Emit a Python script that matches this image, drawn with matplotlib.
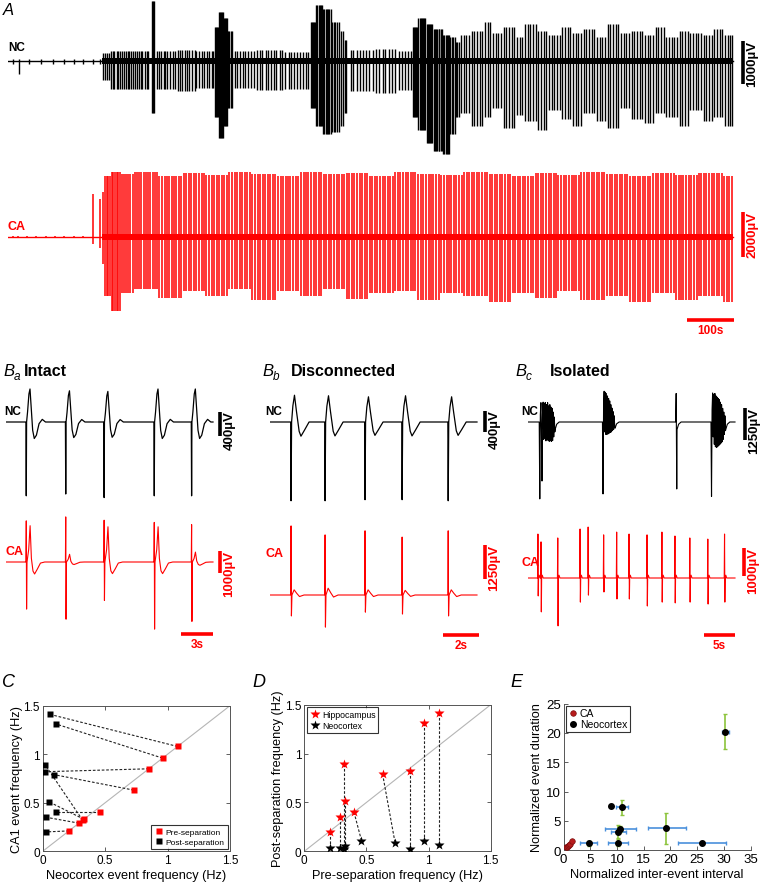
import numpy as np
import matplotlib.pyplot as plt

W, H = 760, 887
RED = '#ff0000'
plt.rcParams['font.family'] = ['Liberation Sans', 'DejaVu Sans']

# ---------------- panel A : long recordings (time s, amplitude uV) ----------------
nc_a_t = [10, 23, 45, 70, 95, 120, 140, 160, 180, 195,
          202, 207, 211, 214, 219, 223, 226, 231, 234, 238, 243, 246, 250, 255, 258, 262, 267, 270, 274, 279,
          283, 286, 291, 295, 298, 307, 309, 311,
          317, 322, 326, 331, 335, 339, 345, 350, 356, 361, 365, 371, 376, 380, 386, 392, 397, 401, 407, 412,
          418, 423, 427, 433, 437,
          441, 443, 445, 447, 449, 451, 453, 455, 457, 459, 461, 463, 465, 467, 469, 471, 474, 477,
          482, 488, 493, 500, 505, 511, 518, 523, 530, 536, 541, 548, 553, 560, 566, 571, 578, 584, 590, 597,
          602, 608, 615, 621, 627, 633, 638,
          645, 647, 649, 651, 653, 656, 658, 661, 663, 666, 668, 671, 673, 676, 678, 681, 684, 687, 690,
          693, 696, 700, 704, 708, 712, 716, 720,
          729, 735, 742, 748, 756, 762, 769, 776, 783, 789, 797, 803, 811, 818, 824, 832, 839, 845, 852, 857,
          861, 863, 866, 868, 871, 873, 876, 878, 881, 883, 886, 888, 891, 893, 896, 898, 901, 903, 906, 908,
          911, 913, 916, 918, 921, 923, 926, 928, 931, 933, 936, 938, 941, 944, 947, 950, 953, 956, 959,
          964, 970, 975, 981, 987, 992, 998, 1004, 1009, 1015, 1021, 1026, 1032, 1038, 1043, 1049, 1055, 1060,
          1066, 1072, 1077, 1083, 1089, 1094, 1100, 1106, 1111, 1117, 1123, 1128, 1134, 1140, 1145, 1151,
          1157, 1162, 1168, 1174, 1179, 1185, 1191, 1196, 1202, 1208, 1213, 1219, 1225, 1230, 1236, 1242,
          1247, 1253, 1259, 1264, 1270, 1276, 1281, 1287, 1293, 1298, 1304, 1310, 1315, 1321, 1327, 1332,
          1338, 1344, 1349, 1355, 1361, 1366, 1372, 1378, 1383, 1389, 1395, 1400, 1406, 1412, 1417, 1423,
          1429, 1434, 1440, 1446, 1451, 1457, 1463, 1468, 1474, 1480, 1485, 1491, 1497, 1502, 1508, 1514,
          1519, 1525, 1531, 1536, 1540]
nc_env_t = [0, 18, 28, 200, 215, 304, 314, 360, 400, 440, 448, 458, 466, 478, 530, 590, 645, 655, 670, 690,
            705, 715, 724, 780, 830, 860, 872, 890, 905, 925, 940, 952, 962, 985, 1010, 1030, 1055, 1080, 1100,
            1125, 1150, 1175, 1200, 1225, 1250, 1275, 1300, 1325, 1350, 1375, 1400, 1425, 1450, 1475, 1500, 1525]
nc_env_up = [40, 40, 40, 180, 240, 1400, 240, 260, 230, 800, 1150, 1000, 700, 230, 250, 220, 900, 1300, 1200,
             900, 700, 500, 250, 280, 240, 800, 1000, 850, 750, 600, 550, 450, 600, 700, 900, 650, 800, 550,
             850, 700, 600, 800, 650, 750, 550, 850, 650, 700, 600, 800, 550, 700, 650, 600, 750, 600]
nc_env_dn = [-70, -300, -70, -450, -650, -1200, -640, -700, -620, -1300, -1800, -1500, -1100, -620, -680, -640,
             -1100, -1500, -1700, -1650, -1500, -1200, -700, -750, -680, -1300, -1600, -1900, -2100, -2170,
             -1700, -1300, -1200, -1500, -1300, -1100, -1550, -1250, -1400, -1600, -1150, -1350, -1500, -1200,
             -1400, -1550, -1100, -1350, -1450, -1200, -1300, -1500, -1150, -1400, -1300, -1500]

ca_a_t = [10, 21, 40, 60, 80, 100, 120, 140, 160, 181, 196,
          203, 206, 210, 213, 217, 221, 224, 228, 232, 235, 239, 243, 247, 251, 256, 260, 265, 270, 274, 279,
          284, 289, 293, 298, 303, 308, 313, 318, 322, 327, 333, 338, 343, 348, 353, 358, 364, 369, 374, 379,
          385, 390, 396, 401, 406, 412, 417, 422, 428, 433, 438, 444, 449, 455, 460, 466, 471, 476, 482, 487,
          493, 498, 504, 509, 515, 520, 525, 531, 536, 542, 547, 553, 558, 563, 569, 574, 580, 585, 591, 596,
          601, 607, 612, 618, 623, 629, 634, 639, 645, 650, 656, 661, 667, 672, 677, 683, 688, 694, 699, 705,
          710, 715, 721, 726, 732, 737, 743, 748, 753, 759, 764, 770, 775, 781, 786, 791, 797, 802, 808, 813,
          819, 824, 829, 835, 840, 846, 851, 857, 862, 867, 873, 878, 884, 889, 895, 900, 905, 911, 916, 922,
          927, 933, 938, 943, 949, 954, 960, 965, 971, 976, 981, 987, 992, 998, 1003, 1009, 1014, 1019, 1025,
          1030, 1036, 1041, 1047, 1052, 1057, 1063, 1068, 1074, 1079, 1085, 1090, 1095, 1101, 1106, 1112,
          1117, 1123, 1128, 1133, 1139, 1144, 1150, 1155, 1161, 1166, 1171, 1177, 1182, 1188, 1193, 1199,
          1204, 1209, 1215, 1220, 1226, 1231, 1237, 1242, 1247, 1253, 1258, 1264, 1269, 1275, 1280, 1285,
          1291, 1296, 1302, 1307, 1313, 1318, 1323, 1329, 1334, 1340, 1345, 1351, 1356, 1361, 1367, 1372,
          1378, 1383, 1389, 1394, 1399, 1405, 1410, 1416, 1421, 1427, 1432, 1437, 1443, 1448, 1454, 1459,
          1465, 1470, 1475, 1481, 1486, 1492, 1497, 1503, 1508, 1513, 1519, 1524, 1530, 1535, 1540]
ca_env_t = [0, 178, 190, 200, 206, 218, 240, 270, 320, 370, 420, 470, 520, 570, 620, 670, 720, 770, 820, 870,
            920, 970, 1020, 1070, 1120, 1170, 1220, 1270, 1320, 1370, 1420, 1470, 1520]
ca_env_up = [40, 1900, 1700, 2000, 2700, 2900, 2800, 2900, 2700, 2850, 2750, 2900, 2800, 2700, 2900, 2800,
             2850, 2700, 2900, 2800, 2750, 2900, 2800, 2700, 2850, 2750, 2900, 2800, 2700, 2850, 2750, 2850, 2700]
ca_env_dn = [-60, -300, -500, -1200, -2600, -3300, -2500, -2300, -2700, -2400, -2600, -2300, -2800, -2400,
             -2600, -2300, -2750, -2500, -2400, -2800, -2500, -2600, -2900, -2500, -2700, -2400, -2800, -2600,
             -2900, -2500, -2800, -2600, -2900]

# ---------------- panel B : example events ----------------
ba_t = [1.9, 5.6, 9.2, 13.9, 17.4]
ba_nc_dn = [-1230, -1200, -1260, -1230, -1230]
ba_nc_pk = [550, 520, 510, 550, 550]
ba_ca_up = [1870, 2050, 1900, 1800, 1700]
ba_ca_dn = [-2140, -2600, -1750, -3050, -2700]
ba_ca_reb = [1650, 350, 1600, 1600, 450]

bb_t = [1.17, 3.06, 5.28, 7.34, 9.9]
bb_nc_dn = [-1500, -1500, -1480, -1480, -1500]
bb_nc_pk = [510, 500, 480, 500, 480]
bb_ca_up = [2540, 2210, 2360, 2130, 2360]
bb_ca_dn = [-770, -1180, -630, -700, -770]
bb_ca_bump = [190, 250, 190, 170, 190]

bc_nc_t = [1.9, 12.1, 23.9, 29.6]
bc_nc_sharp = [
    [-3100, 300, 780, -300, -2380, 600, 800, -700, 760, -650, 780, -760, 700, -700, 780, -750, 650, -780,
     700, -760, 600, -780, 550, -750, 400, -600, 200, -400],
    [-2900, 600, 1240, -400, 1200, -500, 1150, -500, 1050, -480, 950, -450, 850, -420, 700, -400, 560, -350,
     420, -300, 250, -200],
    [1150, -2700],
    [-3000, 500, 1170, -600, 1100, -900, 1150, -1000, 1050, -1030, 1000, -1000, 950, -950, 900, -900, 800,
     -850, 700, -800, 550, -700, 400, -500, 250, -350]]
bc_nc_tail = [300, 250, 300, 300]
bc_ca_t = [1.6, 2.1, 4.8, 8.4, 9.7, 12.2, 14.3, 16.3, 19.2, 21.6, 23.7, 26.1, 29.0, 31.7]
bc_ca_up = [1570, 1290, 1430, 1750, 1820, 1540, 1640, 1570, 1540, 1640, 1500, 1430, 1390, 1570]
bc_ca_dn = [-640, -1210, -1710, -860, -610, -500, -750, -750, -1000, -860, -890, -860, -930, -860]

# ---------------- panels C, D : event frequencies (Hz) ----------------
nc_pre = [0.21, 0.29, 0.32, 0.33, 0.46, 0.73, 0.85, 0.96, 1.08]
ca_pre = [0.21, 0.29, 0.32, 0.33, 0.40, 0.63, 0.85, 0.96, 1.08]
nc_post = [0.03, 0.03, 0.02, 0.05, 0.11, 0.09, 0.02, 0.11, 0.06]
ca_post = [0.20, 0.35, 0.89, 0.51, 0.40, 0.79, 0.82, 1.31, 1.41]

# ---------------- panel E : normalized interval / duration ----------------
e_ca_x = [0.5, 0.7, 0.9, 1.0, 1.25, 1.6]
e_ca_y = [0.5, 0.6, 0.7, 0.9, 1.0, 1.5]
e_nc_x = [30.3, 26.0, 19.2, 10.6, 10.2, 10.2, 11.0, 8.8, 4.7]
e_nc_y = [20.2, 1.3, 3.8, 3.7, 3.1, 1.3, 7.3, 7.6, 1.2]
e_nc_xlo = [0.6, 4.5, 3.45, 2.9, 1.4, 1.95, 1.1, 0.0, 1.7]
e_nc_xhi = [0.6, 4.5, 3.8, 2.9, 1.4, 1.9, 1.1, 0.0, 1.55]
e_nc_ylo = [2.9, 0.0, 2.8, 0.5, 1.0, 0.6, 1.2, 0.0, 0.4]
e_nc_yhi = [3.0, 0.0, 2.6, 0.4, 1.2, 0.6, 1.2, 0.0, 0.4]

fig = plt.figure(figsize=(W / 100, H / 100), dpi=100)


def px_axes(x0, y0, x1, y1):
    return fig.add_axes([x0 / W, 1 - y1 / H, (x1 - x0) / W, (y1 - y0) / H])


def trace_ax(x0, x1, y0, y1, base, s_px, uv_px):
    ax = px_axes(x0, y0, x1, y1)
    ax.set_xlim(0, (x1 - x0) * s_px)
    ax.set_ylim(-(y1 - base) * uv_px, (base - y0) * uv_px)
    ax.axis('off')
    return ax


def vbar(ax, t, lo, hi, color, label, size=9.5):
    ax.plot([t, t], [lo, hi], color=color, lw=2.6, solid_capstyle='butt', clip_on=False)
    ax.annotate(label, (t, hi), xytext=(2.5, 1), textcoords='offset points', rotation=90,
                ha='left', va='top', color=color, fontsize=size, fontweight='bold', annotation_clip=False)


def hbar(ax, t0, t1, y, label):
    ax.plot([t0, t1], [y, y], color=RED, lw=2.6, solid_capstyle='butt', clip_on=False)
    ax.annotate(label, ((t0 + t1) / 2, y), xytext=(0, -3), textcoords='offset points', ha='center',
                va='top', color=RED, fontsize=8.5, fontweight='bold', annotation_clip=False)


def spikes(ax, t, env_t, env_up, env_dn, band, color, lw, t_end):
    t = np.asarray(t, float)
    i = np.searchsorted(env_t, t, side='right') - 1
    ax.plot([0, t_end], [0, 0], color=color, lw=1.0)
    ax.fill_between([200, t_end], [-band, -band], [band, band], color=color, lw=0)
    ax.vlines(t, np.asarray(env_dn)[i], np.asarray(env_up)[i], color=color, lw=lw)


def build(ev_t, sharp, amp, tail_t, tail_v, dt, t_end):
    xs, ys = [0.0], [0.0]
    for t0, s, a in zip(ev_t, sharp, amp):
        xs.append(t0 - dt)
        ys.append(0.0)
        for k, v in enumerate(s):
            xs.append(t0 + k * dt)
            ys.append(v)
        t1 = t0 + (len(s) - 1) * dt
        for tt, vv in zip(tail_t, tail_v):
            xs.append(t1 + tt)
            ys.append(a * vv)
    xs.append(t_end)
    ys.append(0.0)
    return xs, ys


def label(x, y, s, color='k', size=9):
    fig.text(x / W, 1 - y / H, s, color=color, fontsize=size, fontweight='bold', ha='left', va='center')


# ---------- A ----------
sA = 100 / 47
ax = trace_ax(8, 760, 0, 162, 62, sA, 1000 / 43)
spikes(ax, nc_a_t, nc_env_t, nc_env_up, nc_env_dn, 80, 'k', 1.0, 1543)
vbar(ax, 735 * sA, -535, 465, 'k', '1000µV')
ax = trace_ax(8, 760, 165, 345, 238, sA, 2000 / 45)
spikes(ax, ca_a_t, ca_env_t, ca_env_up, ca_env_dn, 120, RED, 1.1, 1543)
vbar(ax, 735 * sA, -890, 1110, RED, '2000µV')
hbar(ax, 1445, 1545, -(321 - 238) * 2000 / 45, '100s')
fig.text(3 / W, 1 - 3 / H, 'A', fontsize=12, style='italic', va='top')
label(8, 48, 'NC', size=8.5)
label(8, 227, 'CA', RED)

# ---------- B ----------
nc_tail_t = [0.03, 0.12, 0.25, 0.35, 0.45, 0.6, 0.75, 0.95, 1.2, 1.5, 1.8]
nc_tail_v = [0, 0.3, 0.85, 1.0, 0.5, -0.25, -0.5, -0.4, -0.05, 0.08, 0]
ca_tail_t = [0.04, 0.2, 0.33, 0.45, 0.6, 0.75, 1.0, 1.3, 1.7]
ca_tail_v = [0, 0.35, 1.0, 0.1, -0.25, -0.33, -0.2, -0.03, 0]

s = 3 / 32
ax = trace_ax(6, 250, 385, 505, 423, s, 400 / 24)
xs, ys = build(ba_t, [[d] for d in ba_nc_dn], ba_nc_pk, nc_tail_t, nc_tail_v, 0.03, 207 * s)
ax.plot(xs, ys, color='k', lw=0.9)
vbar(ax, 214 * s, -233, 167, 'k', '400µV')
ax = trace_ax(6, 250, 510, 660, 563, s, 1000 / 22)
xs, ys = build(ba_t, [[u, d] for u, d in zip(ba_ca_up, ba_ca_dn)], ba_ca_reb, ca_tail_t, ca_tail_v, 0.03, 207 * s)
ax.plot(xs, ys, color=RED, lw=0.8)
vbar(ax, 214 * s, -500, 500, RED, '1000µV')
hbar(ax, 175 * s, 207 * s, -(635 - 563) * 1000 / 22, '3s')

bnc_t = [0.03, 0.1, 0.19, 0.3, 0.45, 0.55, 0.75, 1.0]
bnc_v = [0, 0.6, 1.0, 0.4, -0.35, -0.53, -0.3, 0]
bca_t = [0.03, 0.15, 0.3, 0.45, 0.7]
bca_v = [0, 1.0, 0.3, -0.3, 0]
s = 2 / 36
ax = trace_ax(270, 510, 385, 505, 423, s, 400 / 21)
xs, ys = build(bb_t, [[d] for d in bb_nc_dn], bb_nc_pk, bnc_t, bnc_v, 0.02, 207 * s)
ax.plot(xs, ys, color='k', lw=0.9)
vbar(ax, 215 * s, -190, 210, 'k', '400µV')
ax = trace_ax(270, 510, 510, 660, 596, s, 1250 / 34)
xs, ys = build(bb_t, [[u, d] for u, d in zip(bb_ca_up, bb_ca_dn)], bb_ca_bump, bca_t, bca_v, 0.02, 207 * s)
ax.plot(xs, ys, color=RED, lw=0.8)
vbar(ax, 215 * s, 588, 1838, RED, '1250µV')
hbar(ax, 173 * s, 209 * s, -(636 - 596) * 1250 / 34, '2s')

s = 5 / 31
ax = trace_ax(528, 760, 385, 505, 423, s, 1250 / 31)
xs, ys = build(bc_nc_t, bc_nc_sharp, bc_nc_tail, [0.05, 0.3, 0.7], [-1, -0.3, 0], 0.09, 207 * s)
ax.plot(xs, ys, color='k', lw=0.8)
vbar(ax, 217 * s, -726, 564, 'k', '1250µV')
ax = trace_ax(528, 760, 510, 660, 579, s, 1000 / 28)
xs, ys = build(bc_ca_t, [[u, d] for u, d in zip(bc_ca_up, bc_ca_dn)], [100] * len(bc_ca_t),
               [0.05, 0.15, 0.3], [0, 1.0, 0], 0.05, 207 * s)
ax.plot(xs, ys, color=RED, lw=0.8)
vbar(ax, 216 * s, 71, 1071, RED, '1000µV')
hbar(ax, 176 * s, 207 * s, -(636 - 579) * 1000 / 28, '5s')

for x0, sub, title, tx in [(3, 'a', 'Intact', 24), (262, 'b', 'Disconnected', 291), (515, 'c', 'Isolated', 550)]:
    fig.text(x0 / W, 1 - 372 / H, 'B', fontsize=12, style='italic', va='center')
    fig.text((x0 + 11) / W, 1 - 377 / H, sub, fontsize=8.5, style='italic', va='center')
    fig.text(tx / W, 1 - 372 / H, title, fontsize=11.5, fontweight='bold', va='center')
for x in (4, 265, 521):
    label(x, 412, 'NC', size=8.5)
label(6, 552, 'CA', RED)
label(265, 554, 'CA', RED)
label(521, 563, 'CA', RED)


# ---------- C, D ----------
def frame(ax):
    ax.set_xlim(0, 1.5)
    ax.set_ylim(0, 1.5)
    ax.set_xticks([0, 0.5, 1, 1.5], ['0', '0.5', '1', '1.5'])
    ax.set_yticks([0, 0.5, 1, 1.5], ['0', '0.5', '1', '1.5'])
    ax.tick_params(direction='in', length=3, width=0.6, top=True, right=True, labelsize=8.5, pad=2,
                   color='#444444')
    for sp in ax.spines.values():
        sp.set_color('#555555')
        sp.set_linewidth(0.7)
    ax.plot([0, 1.5], [0, 1.5], color='#b5b5b5', lw=0.8, zorder=1)


dash = (0, (2.4, 1.6))
LAB = 9.2
ax = px_axes(42.7, 706.7, 230, 852.3)
frame(ax)
for a, b, c, d in zip(nc_pre, ca_pre, nc_post, ca_post):
    ax.plot([a, c], [b, d], ls=dash, color='#222222', lw=0.8, zorder=2)
ax.plot(nc_pre, ca_pre, 's', color=RED, ms=5, mec='none', label='Pre-separation', zorder=3)
ax.plot(nc_post, ca_post, 's', color='k', ms=5, mec='none', label='Post-separation', zorder=3)
ax.set_xlabel('Neocortex event frequency (Hz)', fontsize=LAB, labelpad=2)
ax.set_ylabel('CA1 event frequency (Hz)', fontsize=LAB, labelpad=0.5)
lg = ax.legend(loc='lower right', fontsize=6, fancybox=False, edgecolor='k', borderpad=0.35,
               handletextpad=0.2, handlelength=1.2, borderaxespad=0.3, labelspacing=0.3)
lg.get_frame().set_linewidth(0.8)
fig.text(2 / W, 1 - 683 / H, 'C', fontsize=13, style='italic', va='center')

ax = px_axes(304.3, 705.7, 490.7, 852.3)
frame(ax)
for a, b, c, d in zip(ca_pre, ca_post, nc_pre, nc_post):
    ax.plot([a, c], [b, d], ls=dash, color='#222222', lw=0.8, zorder=2)
ax.plot(ca_pre, ca_post, '*', color=RED, ms=7, mec='none', label='Hippocampus', zorder=3)
ax.plot(nc_pre, nc_post, '*', color='k', ms=7, mec='none', label='Neocortex', zorder=3)
ax.set_xlabel('Pre-separation frequency (Hz)', fontsize=LAB, labelpad=2)
ax.set_ylabel('Post-separation frequency (Hz)', fontsize=LAB, labelpad=0.5)
lg = ax.legend(loc='upper left', fontsize=6.3, fancybox=False, edgecolor='k', borderpad=0.3,
               handletextpad=0.2, handlelength=1.2, borderaxespad=0.3, labelspacing=0.25)
lg.get_frame().set_linewidth(0.8)
fig.text(252 / W, 1 - 683 / H, 'D', fontsize=13, style='italic', va='center')

# ---------- E ----------
ax = px_axes(563.6, 704.6, 750.5, 851.3)
ax.set_xlim(0, 35)
ax.set_ylim(0, 25)
ax.set_xticks(range(0, 36, 5))
ax.set_yticks(range(0, 26, 5))
ax.spines['top'].set_visible(False)
ax.spines['right'].set_visible(False)
for sp in ('left', 'bottom'):
    ax.spines[sp].set_color('#555555')
    ax.spines[sp].set_linewidth(0.7)
ax.tick_params(direction='in', length=3, width=0.6, labelsize=9.5, pad=2, color='#444444')
ax.errorbar(e_nc_x, e_nc_y, xerr=[e_nc_xlo, e_nc_xhi], fmt='none', ecolor='#4a90dc', elinewidth=1.2,
            capsize=1.5, capthick=1.0)
ax.errorbar(e_nc_x, e_nc_y, yerr=[e_nc_ylo, e_nc_yhi], fmt='none', ecolor='#8cc43c', elinewidth=1.2,
            capsize=1.5, capthick=1.0)
ax.plot(e_ca_x, e_ca_y, 'o', color='#b81c1c', mec='#7a0d0d', mew=0.5, ms=4, label='CA', zorder=4)
ax.plot(e_nc_x, e_nc_y, 'o', color='k', ms=4, label='Neocortex', zorder=4)
ax.set_xlabel('Normalized inter-event interval', fontsize=LAB, labelpad=2)
ax.set_ylabel('Normalized event duration', fontsize=LAB, labelpad=2)
lg = ax.legend(loc='upper left', fontsize=7.5, fancybox=False, edgecolor='k', borderpad=0.25,
               handletextpad=0.1, handlelength=1.0, borderaxespad=0.2, labelspacing=0.1)
lg.get_frame().set_linewidth(0.8)
fig.text(510 / W, 1 - 683 / H, 'E', fontsize=13, style='italic', va='center')

fig.savefig('out.png', dpi=100)
